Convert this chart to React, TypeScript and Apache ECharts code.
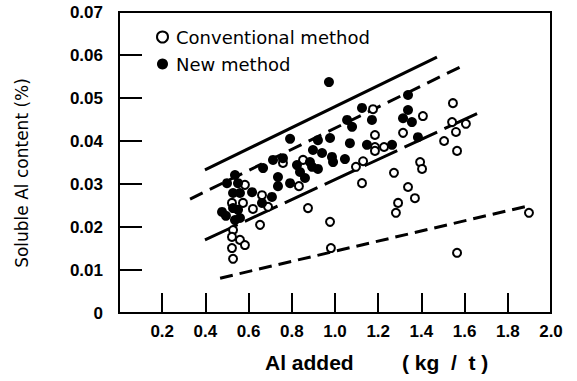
import React, { useEffect, useRef } from 'react';
import * as echarts from 'echarts';

const xTickLabels = ['', '0.2', '0.4', '0.6', '0.8', '1.0', '1.2', '1.4', '1.6', '1.8', '2.0'];
const yTickLabels = ['0', '0.01', '0.02', '0.03', '0.04', '0.05', '0.06', '0.07'];

const conventional: [number, number][] = [
  [0.583, 0.0298], [0.662, 0.0274], [0.523, 0.0256], [0.574, 0.0256], [0.620, 0.0242],
  [0.690, 0.0247], [0.653, 0.0205], [0.528, 0.0193], [0.523, 0.0177], [0.560, 0.0170],
  [0.583, 0.0158], [0.523, 0.0151], [0.528, 0.0126], [0.759, 0.0349], [0.852, 0.0356],
  [1.130, 0.0353], [1.097, 0.0340], [1.125, 0.0302], [0.833, 0.0295], [0.875, 0.0244],
  [0.977, 0.0212], [0.981, 0.0151], [1.176, 0.0474], [1.546, 0.0488], [1.407, 0.0458],
  [1.315, 0.0419], [1.542, 0.0444], [1.606, 0.0440], [1.560, 0.0421], [1.185, 0.0414],
  [1.505, 0.0400], [1.185, 0.0386], [1.185, 0.0377], [1.227, 0.0386], [1.565, 0.0377],
  [1.394, 0.0351], [1.403, 0.0335], [1.273, 0.0326], [1.338, 0.0293], [1.370, 0.0267],
  [1.292, 0.0256], [1.282, 0.0233], [1.565, 0.0140], [1.898, 0.0233],
];

const newMethod: [number, number][] = [
  [0.713, 0.0356], [0.667, 0.0337], [0.537, 0.0321], [0.500, 0.0302], [0.551, 0.0302],
  [0.616, 0.0281], [0.528, 0.0279], [0.560, 0.0279], [0.708, 0.0270], [0.662, 0.0256],
  [0.528, 0.0244], [0.551, 0.0240], [0.477, 0.0235], [0.495, 0.0226], [0.537, 0.0216],
  [0.560, 0.0221], [1.125, 0.0477], [1.056, 0.0449], [1.079, 0.0433], [0.792, 0.0405],
  [0.977, 0.0407], [0.921, 0.0402], [1.069, 0.0395], [1.148, 0.0391], [0.898, 0.0379],
  [0.940, 0.0372], [0.759, 0.0360], [0.986, 0.0363], [0.991, 0.0351], [1.046, 0.0358],
  [0.824, 0.0344], [0.884, 0.0351], [0.894, 0.0340], [0.838, 0.0328], [0.921, 0.0335],
  [0.736, 0.0316], [0.861, 0.0314], [0.792, 0.0302], [0.736, 0.0295], [1.338, 0.0507],
  [1.171, 0.0449], [1.338, 0.0472], [1.315, 0.0453], [1.356, 0.0444], [1.384, 0.0409],
  [1.264, 0.0391], [0.972, 0.0537],
];

const upperSolid: [number, number][] = [[0.398, 0.0333], [1.472, 0.0595]];
const upperDashed: [number, number][] = [[0.329, 0.0265], [1.579, 0.0572]];
const lowerDashed: [number, number][] = [[0.398, 0.0170], [1.671, 0.0467]];
const bottomDashed: [number, number][] = [[0.468, 0.0081], [1.894, 0.0249]];

export default function App() {
  const ref = useRef<HTMLDivElement>(null);
  useEffect(() => {
    if (!ref.current) return;
    const chart = echarts.init(ref.current, undefined, { renderer: 'svg' });
    const lineSeries = (data: [number, number][], type: any) => ({
      type: 'line',
      data,
      symbol: 'none',
      silent: true,
      lineStyle: { color: '#000', width: 3, type },
      z: 1,
    });
    chart.setOption({
      animation: false,
      backgroundColor: '#fff',
      grid: {
        left: 119, top: 12, right: 26, bottom: 68,
        show: true, borderColor: '#000', borderWidth: 2, backgroundColor: 'transparent',
      },
      legend: {
        orient: 'vertical',
        left: 151,
        top: 23,
        itemWidth: 11,
        itemHeight: 11,
        itemGap: 9,
        data: ['Conventional method', 'New method'],
        textStyle: { fontFamily: 'DejaVu Sans', fontSize: 18, color: '#000', lineHeight: 18, padding: [0, 0, 0, 3] },
      },
      xAxis: {
        type: 'value',
        min: 0,
        max: 2,
        interval: 0.2,
        splitLine: { show: false },
        axisLine: { show: true, lineStyle: { color: '#000', width: 2 } },
        axisTick: { show: true, inside: true, length: 20, lineStyle: { color: '#000', width: 2 } },
        axisLabel: {
          showMinLabel: true,
          showMaxLabel: true,
          margin: 10,
          color: '#000',
          fontFamily: 'Liberation Sans',
          fontWeight: 'bold',
          fontSize: 17,
          formatter: (v: number) => xTickLabels[Math.round(v / 0.2)] ?? '',
        },
      },
      yAxis: {
        type: 'value',
        min: 0,
        max: 0.07,
        interval: 0.01,
        splitLine: { show: false },
        axisLine: { show: true, lineStyle: { color: '#000', width: 2 } },
        axisTick: { show: true, inside: true, length: 23, lineStyle: { color: '#000', width: 2 } },
        axisLabel: {
          showMinLabel: true,
          showMaxLabel: true,
          margin: 16,
          color: '#000',
          fontFamily: 'Liberation Sans',
          fontWeight: 'bold',
          fontSize: 17,
          formatter: (v: number) => yTickLabels[Math.round(v / 0.01)] ?? '',
        },
      },
      graphic: [
        {
          type: 'text',
          x: 22,
          y: 173,
          rotation: Math.PI / 2,
          style: {
            text: 'Soluble Al content (%)',
            fontFamily: 'DejaVu Sans',
            fontSize: 17,
            fill: '#000',
            align: 'center',
            verticalAlign: 'middle',
          },
        },
        {
          type: 'text',
          x: 265,
          y: 362,
          style: {
            text: 'Al added',
            fontFamily: 'Liberation Sans',
            fontWeight: 'bold',
            fontSize: 21,
            fill: '#000',
            align: 'left',
            verticalAlign: 'middle',
          },
        },
        {
          type: 'text',
          x: 402,
          y: 362,
          style: {
            text: '( kg  /  t )',
            fontFamily: 'Liberation Sans',
            fontWeight: 'bold',
            fontSize: 21,
            fill: '#000',
            align: 'left',
            verticalAlign: 'middle',
          },
        },
      ],
      series: [
        lineSeries(upperSolid, 'solid'),
        lineSeries(upperDashed, [14, 8]),
        lineSeries(lowerDashed, [36, 8]),
        lineSeries(bottomDashed, [13, 7]),
        {
          name: 'Conventional method',
          type: 'scatter',
          data: conventional,
          symbol: 'circle',
          symbolSize: 8,
          itemStyle: { color: '#fff', borderColor: '#000', borderWidth: 2, opacity: 1 },
          z: 3,
        },
        {
          name: 'New method',
          type: 'scatter',
          data: newMethod,
          symbol: 'circle',
          symbolSize: 10,
          itemStyle: { color: '#000', opacity: 1 },
          z: 4,
        },
      ],
    });
    return () => chart.dispose();
  }, []);
  return <div ref={ref} style={{ width: 577, height: 381, position: 'fixed', left: 0, top: 0 }} />;
}
